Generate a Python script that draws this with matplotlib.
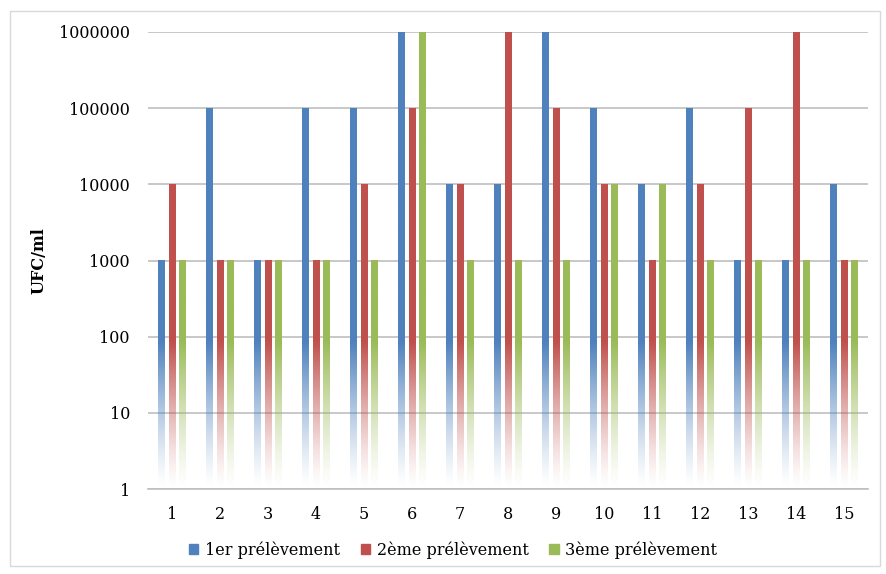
import numpy as np
import matplotlib.pyplot as plt
from matplotlib.patches import Rectangle

# Data
samples = [str(i) for i in range(1, 16)]
series_names = ['1er prélèvement', '2ème prélèvement', '3ème prélèvement']
first = [1e3, 1e5, 1e3, 1e5, 1e5, 1e6, 1e4, 1e4, 1e6, 1e5, 1e4, 1e5, 1e3, 1e3, 1e4]
second = [1e4, 1e3, 1e3, 1e3, 1e4, 1e5, 1e4, 1e6, 1e5, 1e4, 1e3, 1e4, 1e5, 1e6, 1e3]
third = [1e3, 1e3, 1e3, 1e3, 1e3, 1e6, 1e3, 1e3, 1e3, 1e4, 1e4, 1e3, 1e3, 1e3, 1e3]
yticks = [1, 10, 100, 1000, 10000, 100000, 1000000]

colors = ['#4F81BD', '#C0504D', '#9BBB59']
plt.rcParams['font.family'] = ['DejaVu Serif']

fig = plt.figure(figsize=(8.86, 5.74), dpi=100)
ax = fig.add_axes([148 / 886, 1 - 489 / 574, 720 / 886, 457 / 574])

x = np.arange(len(samples))
width = 0.14
offsets = [-0.22, 0, 0.22]

# vertical fade toward the bottom of the axes
grad = np.linspace(0, 1, 256)
alpha = np.clip(grad / 0.32, 0, 1) ** 1.3

for vals, col, off, name in zip([first, second, third], colors, offsets, series_names):
    bars = ax.bar(x + off, vals, width=width, bottom=1, color='none',
                  edgecolor='none', label=name)
    rgb = np.array(plt.matplotlib.colors.to_rgb(col))
    img = np.zeros((256, 1, 4))
    img[:, 0, :3] = rgb
    img[:, 0, 3] = alpha
    for b in bars:
        im = ax.imshow(img, extent=[0, 1, 0, 1], transform=ax.transAxes,
                       origin='lower', aspect='auto', zorder=3, interpolation='bilinear')
        im.set_clip_path(b)

ax.set_yscale('log')
ax.set_ylim(1, 1e6)
ax.set_xlim(-0.5, len(samples) - 0.5)
ax.set_yticks(yticks)
ax.set_yticklabels([str(t) for t in yticks])
ax.minorticks_off()
ax.set_xticks(x)
ax.set_xticklabels(samples)
ax.tick_params(length=0, labelsize=11.5, pad=12)
ax.tick_params(axis='y', pad=13)
ax.grid(axis='y', color='#BFBFBF', linewidth=1.2, zorder=0)
ax.set_axisbelow(True)
for s in ['top', 'right', 'left']:
    ax.spines[s].set_visible(False)
ax.spines['bottom'].set_color('#BFBFBF')
ax.spines['bottom'].set_linewidth(1.2)
ax.set_ylabel('UFC/ml', fontsize=11.5, fontweight='bold', labelpad=8)

handles = [Rectangle((0, 0), 1, 1, color=c) for c in colors]
fig.legend(handles, series_names, loc='center', bbox_to_anchor=(453 / 886, 1 - 550 / 574),
           ncol=3, frameon=False, fontsize=11.5, handlelength=0.6, handleheight=0.6,
           handletextpad=0.4, columnspacing=1.3)

fig.patches.append(Rectangle((10 / 886, 1 - 566 / 574), 870 / 886, 555 / 574,
                             transform=fig.transFigure, fill=False,
                             edgecolor='#D9D9D9', linewidth=1))

fig.savefig('out.png', dpi=100)
